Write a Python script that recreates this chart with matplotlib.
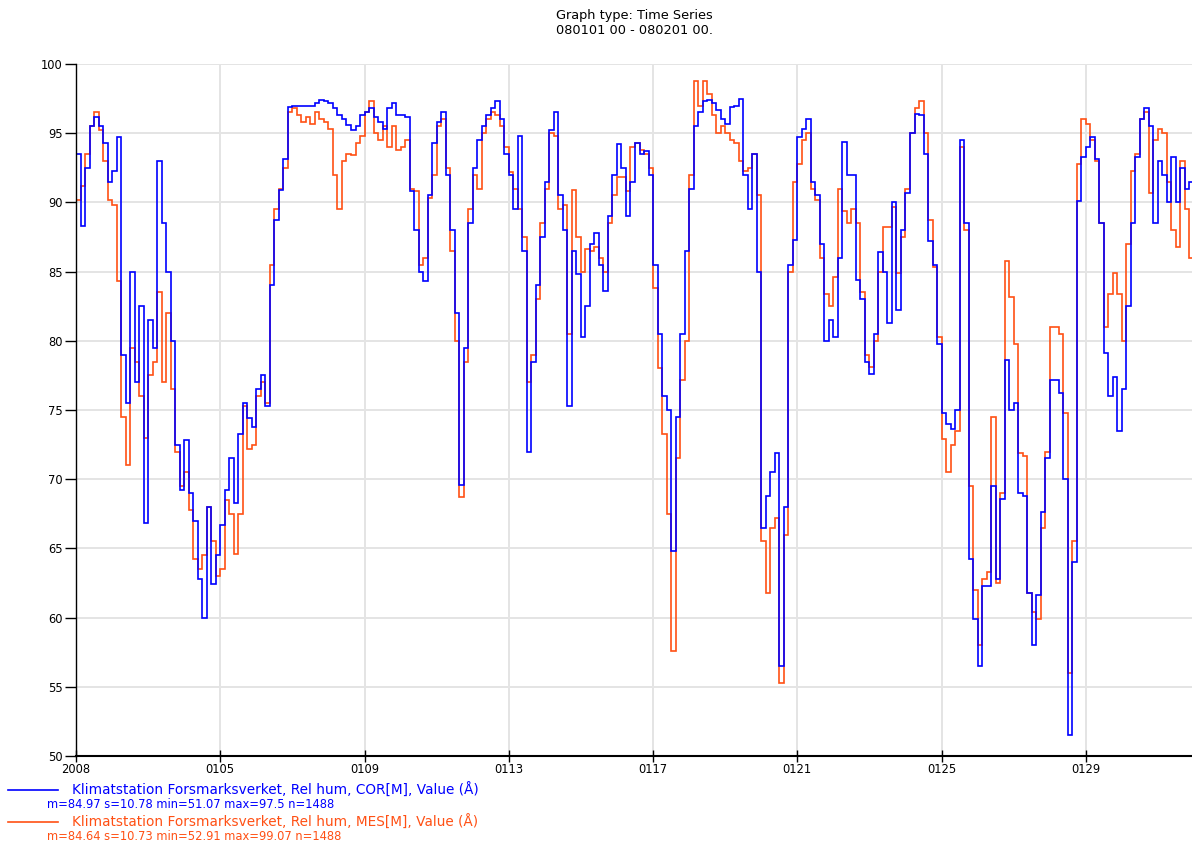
import numpy as np
import matplotlib
matplotlib.use("Agg")
import matplotlib.pyplot as plt
from matplotlib.lines import Line2D

plt.rcParams['font.family'] = ['DejaVu Sans']

# ---- data (3-hourly readings from 2008-01-01 00:00) ----
step_days = 0.125
tick_days = [0, 4, 8, 12, 16, 20, 24, 28]
tick_labels = ['2008', '0105', '0109', '0113', '0117', '0121', '0125', '0129']

cor = [
    93.5, 88.3, 92.5, 95.5, 96.2, 95.5, 94.3, 91.5,
    92.3, 94.7, 79.0, 75.5, 85.0, 77.0, 82.5, 66.8,
    81.5, 79.5, 93.0, 88.5, 85.0, 80.0, 72.5, 69.2,
    72.8, 69.0, 67.0, 62.8, 60.0, 68.0, 62.4, 64.5,
    66.7, 69.2, 71.5, 68.3, 73.3, 75.5, 74.4, 73.8,
    76.5, 77.5, 75.3, 84.0, 88.7, 90.9, 93.1, 96.9,
    97.0, 97.0, 97.0, 97.0, 97.0, 97.2, 97.4, 97.3,
    97.2, 96.8, 96.3, 96.0, 95.6, 95.2, 95.5, 96.3,
    96.5, 96.8, 96.2, 95.8, 95.3, 96.8, 97.2, 96.3,
    96.3, 96.2, 90.8, 88.0, 85.0, 84.3, 90.5, 94.3,
    95.8, 96.5, 92.0, 88.0, 82.0, 69.6, 79.5, 88.5,
    92.5, 94.5, 95.5, 96.3, 96.8, 97.3, 96.0, 93.5,
    92.0, 89.5, 94.8, 86.5, 72.0, 78.5, 84.0, 87.5,
    91.5, 95.2, 96.5, 90.5, 88.0, 75.3, 86.5, 84.8,
    80.3, 82.5, 87.0, 87.8, 85.5, 83.6, 89.0, 92.0,
    94.2, 92.5, 89.0, 91.5, 94.3, 93.5, 93.7, 92.0,
    85.5, 80.5, 76.0, 75.0, 64.8, 74.5, 80.5, 86.5,
    91.0, 95.5, 96.5, 97.3, 97.4, 97.2, 96.7, 96.0,
    95.7, 96.9, 97.0, 97.5, 92.0, 89.5, 93.5, 85.0,
    66.5, 68.8, 70.5, 71.9, 56.5, 68.0, 85.5, 87.3,
    94.7, 95.3, 96.0, 91.5, 90.5, 87.0, 80.0, 81.5,
    80.3, 86.0, 94.4, 92.0, 92.0, 84.4, 83.0, 78.5,
    77.6, 80.5, 86.4, 85.0, 81.3, 90.0, 82.2, 88.0,
    90.7, 95.0, 96.4, 96.3, 93.5, 87.2, 85.5, 79.8,
    74.8, 74.0, 73.6, 75.0, 94.5, 88.5, 64.2, 59.9,
    56.5, 62.3, 62.3, 69.5, 62.8, 68.6, 78.6, 75.0,
    75.5, 69.0, 68.8, 61.8, 58.0, 61.6, 67.6, 71.5,
    77.2, 77.2, 76.2, 70.0, 51.5, 64.0, 90.1, 93.3,
    94.0, 94.7, 93.1, 88.5, 79.1, 76.0, 77.4, 73.5,
    76.5, 82.5, 88.5, 93.3, 96.0, 96.8, 95.5, 88.5,
    93.0, 92.0, 90.0, 93.3, 90.0, 92.5, 91.0, 91.5,
]

mes = [
    90.2, 91.2, 93.5, 95.5, 96.5, 95.2, 93.0, 90.2,
    89.8, 84.3, 74.5, 71.0, 79.5, 78.5, 76.0, 73.0,
    77.5, 78.5, 83.5, 77.0, 82.0, 76.5, 72.0, 69.5,
    70.5, 67.8, 64.2, 63.5, 64.5, 68.0, 65.5, 63.0,
    63.5, 68.5, 67.5, 64.6, 67.5, 75.3, 72.2, 72.5,
    76.0, 77.0, 75.5, 85.5, 89.5, 91.0, 92.5, 96.5,
    96.8, 96.3, 95.8, 96.2, 95.7, 96.5, 96.0, 95.8,
    95.3, 92.0, 89.5, 93.0, 93.5, 93.4, 94.3, 94.8,
    96.5, 97.3, 95.0, 94.5, 95.5, 94.0, 95.5, 93.8,
    94.0, 94.5, 91.0, 90.8, 85.5, 86.0, 90.3, 92.0,
    95.5, 96.0, 92.5, 86.5, 80.0, 68.7, 78.5, 89.5,
    92.0, 91.0, 95.0, 96.0, 96.5, 96.3, 95.5, 94.0,
    92.2, 91.0, 89.5, 87.5, 77.0, 79.0, 83.0, 88.5,
    91.0, 95.0, 94.8, 89.5, 89.8, 80.5, 90.9, 87.5,
    85.0, 86.6, 86.5, 86.8, 86.0, 85.0, 88.5, 90.5,
    91.8, 91.8, 90.8, 94.0, 94.3, 93.8, 93.5, 92.5,
    83.8, 78.0, 73.3, 67.5, 57.6, 71.5, 77.2, 80.0,
    92.0, 98.8, 97.0, 98.8, 97.8, 96.3, 95.0, 95.5,
    95.0, 94.5, 94.3, 93.0, 92.3, 92.5, 93.5, 90.5,
    65.5, 61.8, 66.5, 67.2, 55.3, 66.0, 85.0, 91.5,
    92.8, 94.5, 95.0, 91.0, 90.2, 86.0, 83.4, 82.5,
    84.6, 91.0, 89.4, 88.5, 89.5, 88.5, 83.5, 79.0,
    78.1, 80.0, 85.0, 88.2, 88.2, 89.7, 84.9, 87.5,
    91.0, 95.0, 96.8, 97.3, 95.0, 88.7, 85.3, 80.3,
    72.9, 70.5, 72.5, 73.5, 94.0, 88.0, 69.5, 62.0,
    58.0, 62.8, 63.3, 74.5, 62.5, 69.0, 85.8, 83.2,
    79.8, 71.9, 71.7, 61.8, 60.4, 59.9, 66.5, 72.0,
    81.0, 81.0, 80.5, 74.8, 56.0, 65.5, 92.8, 96.0,
    95.7, 94.5, 93.0, 88.5, 81.0, 83.4, 84.9, 83.4,
    80.0, 87.0, 92.3, 93.5, 96.0, 96.5, 90.7, 94.5,
    95.3, 95.0, 91.5, 88.0, 86.8, 93.0, 89.5, 86.0,
]

cor_label = "Klimatstation Forsmarksverket, Rel hum, COR[M], Value (\u00c5)"
cor_stats = "m=84.97 s=10.78 min=51.07 max=97.5 n=1488"
mes_label = "Klimatstation Forsmarksverket, Rel hum, MES[M], Value (\u00c5)"
mes_stats = "m=84.64 s=10.73 min=52.91 max=99.07 n=1488"

BLUE = '#0000FF'
ORANGE = '#FF5014'

W, H = 1192, 848
fig = plt.figure(figsize=(W / 100, H / 100), dpi=100)
ax = fig.add_axes([76 / W, 92 / H, 1118 / W, 692 / H])

edges_c = np.arange(len(cor) + 1) * step_days
edges_m = np.arange(len(mes) + 1) * step_days
ax.stairs(mes, edges_m, baseline=None, color=ORANGE, lw=1.2)
ax.stairs(cor, edges_c, baseline=None, color=BLUE, lw=1.2)

ax.set_xlim(0, 31)
ax.set_ylim(50, 100)
ax.set_yticks(np.arange(50, 101, 5))
ax.set_xticks(tick_days)
ax.set_xticklabels(tick_labels)
ax.grid(True, color='#E4E4E4', lw=1.4)
ax.set_axisbelow(True)
for s in ['top', 'right']:
    ax.spines[s].set_visible(False)
ax.spines['left'].set_linewidth(1.0)
ax.spines['bottom'].set_linewidth(1.5)
ax.tick_params(axis='y', direction='out', length=8, width=1, labelsize=8.3, pad=1.5)
ax.tick_params(axis='x', direction='inout', length=9, width=1, labelsize=8.3, pad=0.5)

fig.text(634 / W, 1 - 15 / H, "Graph type: Time Series", ha='center', va='center', fontsize=9.3)
fig.text(634 / W, 1 - 30 / H, "080101 00 - 080201 00.", ha='center', va='center', fontsize=9.3)

# legend
for yl, col, lab, st in [(790, BLUE, cor_label, cor_stats), (822, ORANGE, mes_label, mes_stats)]:
    fig.add_artist(Line2D([8 / W, 58 / W], [1 - yl / H, 1 - yl / H], color=col, lw=1.2))
    fig.text(72 / W, 1 - yl / H, lab, color=col, ha='left', va='center', fontsize=9.8)
    fig.text(47 / W, 1 - (yl + 14) / H, st, color=col, ha='left', va='center', fontsize=8.3)

fig.savefig('out.png', dpi=100)
